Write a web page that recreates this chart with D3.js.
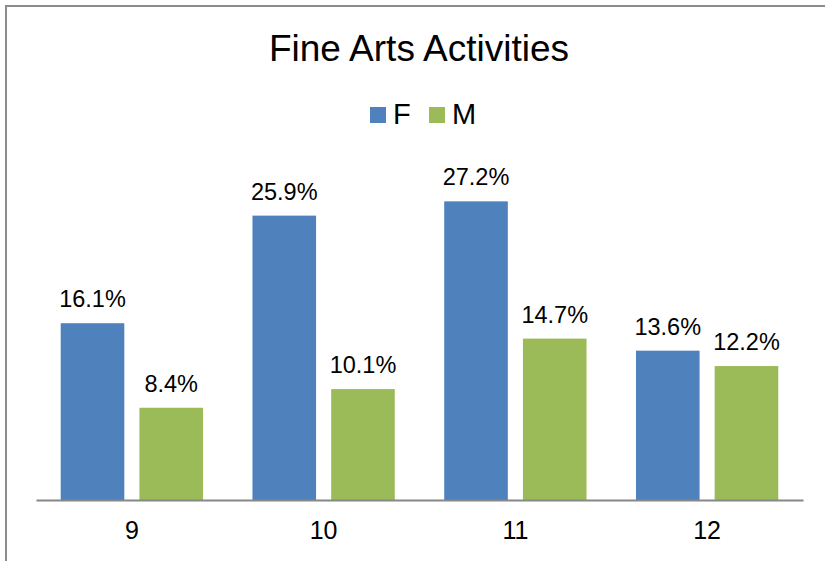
<!DOCTYPE html>
<html>
<head>
<meta charset="utf-8">
<script src="https://cdn.jsdelivr.net/npm/d3@7"></script>
<style>
  body { margin: 0; background: #fff; }
  svg text { font-family: Arial, "Liberation Sans", sans-serif; fill: #000; }
</style>
</head>
<body>
<svg id="chart" width="825" height="561"></svg>
<script>
// chart data
var title = "Fine Arts Activities";
var grades = ["9", "10", "11", "12"];
var seriesNames = ["F", "M"];
var valuesF = [16.1, 25.9, 27.2, 13.6];
var valuesM = [8.4, 10.1, 14.7, 12.2];
var colors = ["#4f81bd", "#9bbb59"];

var svg = d3.select("#chart");

// outer frame (runs off the right and bottom edge)
svg.append("rect")
    .attr("x", 6).attr("y", 6)
    .attr("width", 840).attr("height", 600)
    .attr("fill", "none")
    .attr("stroke", "#8c8c8c")
    .attr("stroke-width", 2);

var baseY = 500;

var x0 = d3.scaleBand().domain(grades).range([36, 803]);
var x1 = d3.scaleBand().domain(seriesNames)
    .range([0, x0.bandwidth()])
    .paddingInner(0.192)
    .paddingOuter(0.314);
var y = d3.scaleLinear().domain([0, 30]).range([baseY, 170.6]);
var color = d3.scaleOrdinal().domain(seriesNames).range(colors);

var rows = grades.map(function(g, i) {
  return { grade: g, values: [
    { key: "F", value: valuesF[i] },
    { key: "M", value: valuesM[i] }
  ]};
});

var groups = svg.selectAll("g.grade")
    .data(rows)
    .enter()
    .append("g")
    .attr("class", "grade")
    .attr("transform", function(d) { return "translate(" + x0(d.grade) + ",0)"; });

groups.selectAll("rect")
    .data(function(d) { return d.values; })
    .enter()
    .append("rect")
    .attr("x", function(d) { return x1(d.key); })
    .attr("y", function(d) { return y(d.value); })
    .attr("width", x1.bandwidth())
    .attr("height", function(d) { return baseY - y(d.value); })
    .attr("fill", function(d) { return color(d.key); });

groups.selectAll("text.val")
    .data(function(d) { return d.values; })
    .enter()
    .append("text")
    .attr("class", "val")
    .attr("x", function(d) { return x1(d.key) + x1.bandwidth() / 2; })
    .attr("y", function(d) { return y(d.value) - 16; })
    .attr("text-anchor", "middle")
    .style("font-size", "23.5px")
    .text(function(d) { return d.value.toFixed(1) + "%"; });

// category axis
var xAxis = d3.axisBottom(x0).tickSize(0).tickPadding(21);
var axisG = svg.append("g")
    .attr("transform", "translate(0," + baseY + ")")
    .call(xAxis);
axisG.select(".domain")
    .attr("stroke", "#878787")
    .attr("stroke-width", 2);
axisG.selectAll(".tick text")
    .style("font-size", "25px")
    .attr("dy", "0.71em");

// title
svg.append("text")
    .attr("x", 419)
    .attr("y", 61)
    .attr("text-anchor", "middle")
    .style("font-size", "37px")
    .text(title);

// legend
var legendPos = [370, 429];
var legend = svg.selectAll("g.legend")
    .data(seriesNames)
    .enter()
    .append("g")
    .attr("class", "legend")
    .attr("transform", function(d, i) { return "translate(" + legendPos[i] + ",107)"; });

legend.append("rect")
    .attr("width", 16).attr("height", 16)
    .attr("fill", function(d) { return color(d); });

legend.append("text")
    .attr("x", 23)
    .attr("y", 17)
    .style("font-size", "29px")
    .text(function(d) { return d; });
</script>
</body>
</html>
